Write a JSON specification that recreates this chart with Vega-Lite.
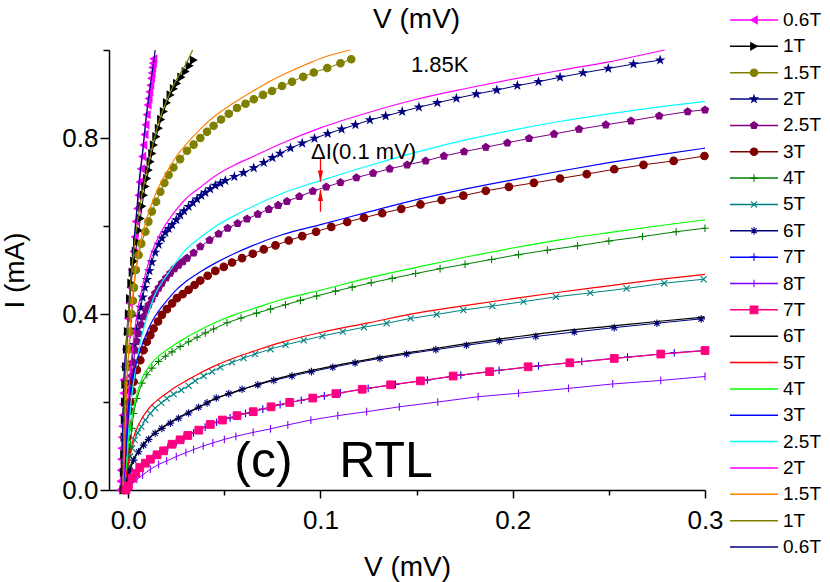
{
"$schema":"https://vega.github.io/schema/vega-lite/v6.json",
"width":596,"height":440,
"autosize":{"type":"none"},
"padding":{"left":109,"top":50,"right":125,"bottom":92},
"background":"white",
"config":{
 "view":{"stroke":null},
 "legend":{"disable":true},
 "range":{"category":["#ff00ff","#000000","#808000","#000080","#800080","#800000","#008000","#008080","#000080","#0000ff","#8000ff","#ff0080","#000000","#ff0000","#00ff00","#0000ff","#00ffff","#ff00ff","#ff8000","#808000","#000080"]},
 "axis":{"grid":false,"domainColor":"#000","tickColor":"#000","labelColor":"#000","titleColor":"#000","domainWidth":1.5,"tickWidth":1.5,"labelFont":"Liberation Sans Narrow, Liberation Sans, sans-serif","titleFont":"Liberation Sans Narrow, Liberation Sans, sans-serif","labelFontSize":26,"titleFontSize":28,"titleFontWeight":"normal","labelOverlap":false,"labelFlush":false}
},
"datasets":{
"curves":[
{"s":"d0.6T","v":-0.0042,"i":0},{"s":"d0.6T","v":-0.004,"i":0.02},{"s":"d0.6T","v":-0.0038,"i":0.045},{"s":"d0.6T","v":-0.0036,"i":0.07},{"s":"d0.6T","v":-0.0034,"i":0.095},{"s":"d0.6T","v":-0.0032,"i":0.12},{"s":"d0.6T","v":-0.003,"i":0.145},{"s":"d0.6T","v":-0.0028,"i":0.17},{"s":"d0.6T","v":-0.0027,"i":0.195},{"s":"d0.6T","v":-0.0025,"i":0.22},{"s":"d0.6T","v":-0.0024,"i":0.25},{"s":"d0.6T","v":-0.0019,"i":0.28},{"s":"d0.6T","v":-0.0012,"i":0.32},{"s":"d0.6T","v":-0.0006,"i":0.355},{"s":"d0.6T","v":0,"i":0.39},{"s":"d0.6T","v":0.0006,"i":0.425},{"s":"d0.6T","v":0.0012,"i":0.46},{"s":"d0.6T","v":0.002,"i":0.5},{"s":"d0.6T","v":0.0028,"i":0.542},{"s":"d0.6T","v":0.0034,"i":0.575},{"s":"d0.6T","v":0.004,"i":0.61},{"s":"d0.6T","v":0.0047,"i":0.64},{"s":"d0.6T","v":0.0054,"i":0.67},{"s":"d0.6T","v":0.006,"i":0.7},{"s":"d0.6T","v":0.0067,"i":0.73},{"s":"d0.6T","v":0.0074,"i":0.758},{"s":"d0.6T","v":0.008,"i":0.784},{"s":"d0.6T","v":0.0086,"i":0.808},{"s":"d0.6T","v":0.0091,"i":0.83},{"s":"d0.6T","v":0.0097,"i":0.853},{"s":"d0.6T","v":0.0102,"i":0.875},{"s":"d0.6T","v":0.0107,"i":0.89},{"s":"d0.6T","v":0.0111,"i":0.905},{"s":"d0.6T","v":0.0116,"i":0.92},{"s":"d0.6T","v":0.012,"i":0.936},{"s":"d0.6T","v":0.0123,"i":0.948},{"s":"d0.6T","v":0.0126,"i":0.96},{"s":"d0.6T","v":0.0129,"i":0.97},{"s":"d0.6T","v":0.0132,"i":0.98},
{"s":"f0.6T","v":-0.0036,"i":0},{"s":"f0.6T","v":-0.003,"i":0.12},{"s":"f0.6T","v":-0.0022,"i":0.25},{"s":"f0.6T","v":-0.001,"i":0.34},{"s":"f0.6T","v":0,"i":0.4},{"s":"f0.6T","v":0.0015,"i":0.49},{"s":"f0.6T","v":0.003,"i":0.565},{"s":"f0.6T","v":0.0045,"i":0.64},{"s":"f0.6T","v":0.006,"i":0.715},{"s":"f0.6T","v":0.0075,"i":0.77},{"s":"f0.6T","v":0.009,"i":0.835},{"s":"f0.6T","v":0.0105,"i":0.888},{"s":"f0.6T","v":0.012,"i":0.935},{"s":"f0.6T","v":0.013,"i":0.965},{"s":"f0.6T","v":0.014,"i":1},
{"s":"d1T","v":-0.0026,"i":0},{"s":"d1T","v":-0.0024,"i":0.04},{"s":"d1T","v":-0.0022,"i":0.08},{"s":"d1T","v":-0.002,"i":0.12},{"s":"d1T","v":-0.0019,"i":0.16},{"s":"d1T","v":-0.0018,"i":0.2},{"s":"d1T","v":-0.0016,"i":0.24},{"s":"d1T","v":-0.0012,"i":0.28},{"s":"d1T","v":-0.0008,"i":0.32},{"s":"d1T","v":-0.0003,"i":0.36},{"s":"d1T","v":0.0002,"i":0.4},{"s":"d1T","v":0.0008,"i":0.435},{"s":"d1T","v":0.0015,"i":0.47},{"s":"d1T","v":0.0022,"i":0.495},{"s":"d1T","v":0.003,"i":0.52},{"s":"d1T","v":0.0038,"i":0.542},{"s":"d1T","v":0.0045,"i":0.564},{"s":"d1T","v":0.0055,"i":0.59},{"s":"d1T","v":0.0063,"i":0.617},{"s":"d1T","v":0.0072,"i":0.645},{"s":"d1T","v":0.008,"i":0.67},{"s":"d1T","v":0.0088,"i":0.69},{"s":"d1T","v":0.0097,"i":0.708},{"s":"d1T","v":0.0106,"i":0.727},{"s":"d1T","v":0.0115,"i":0.746},{"s":"d1T","v":0.0124,"i":0.765},{"s":"d1T","v":0.0132,"i":0.784},{"s":"d1T","v":0.0145,"i":0.803},{"s":"d1T","v":0.0158,"i":0.822},{"s":"d1T","v":0.017,"i":0.842},{"s":"d1T","v":0.0184,"i":0.86},{"s":"d1T","v":0.02,"i":0.88},{"s":"d1T","v":0.0219,"i":0.898},{"s":"d1T","v":0.0236,"i":0.912},{"s":"d1T","v":0.0253,"i":0.924},{"s":"d1T","v":0.0275,"i":0.938},{"s":"d1T","v":0.0297,"i":0.951},{"s":"d1T","v":0.0318,"i":0.964},{"s":"d1T","v":0.034,"i":0.977},
{"s":"f1T","v":-0.0028,"i":0},{"s":"f1T","v":-0.0022,"i":0.15},{"s":"f1T","v":-0.0012,"i":0.3},{"s":"f1T","v":0.0005,"i":0.43},{"s":"f1T","v":0.003,"i":0.55},{"s":"f1T","v":0.0055,"i":0.63},{"s":"f1T","v":0.008,"i":0.69},{"s":"f1T","v":0.012,"i":0.77},{"s":"f1T","v":0.016,"i":0.838},{"s":"f1T","v":0.02,"i":0.885},{"s":"f1T","v":0.025,"i":0.932},{"s":"f1T","v":0.03,"i":0.968},{"s":"f1T","v":0.0335,"i":1},
{"s":"d1.5T","v":-0.0022,"i":0},{"s":"d1.5T","v":-0.0018,"i":0.06},{"s":"d1.5T","v":-0.0014,"i":0.12},{"s":"d1.5T","v":-0.001,"i":0.18},{"s":"d1.5T","v":-0.0007,"i":0.242},{"s":"d1.5T","v":-0.0002,"i":0.28},{"s":"d1.5T","v":0.0005,"i":0.32},{"s":"d1.5T","v":0.0012,"i":0.36},{"s":"d1.5T","v":0.0018,"i":0.4},{"s":"d1.5T","v":0.0025,"i":0.43},{"s":"d1.5T","v":0.003,"i":0.46},{"s":"d1.5T","v":0.004,"i":0.5},{"s":"d1.5T","v":0.0054,"i":0.534},{"s":"d1.5T","v":0.0068,"i":0.56},{"s":"d1.5T","v":0.0089,"i":0.587},{"s":"d1.5T","v":0.0105,"i":0.61},{"s":"d1.5T","v":0.0123,"i":0.633},{"s":"d1.5T","v":0.0145,"i":0.655},{"s":"d1.5T","v":0.0167,"i":0.678},{"s":"d1.5T","v":0.0188,"i":0.698},{"s":"d1.5T","v":0.021,"i":0.716},{"s":"d1.5T","v":0.0235,"i":0.733},{"s":"d1.5T","v":0.027,"i":0.752},{"s":"d1.5T","v":0.0306,"i":0.771},{"s":"d1.5T","v":0.034,"i":0.785},{"s":"d1.5T","v":0.0375,"i":0.8},{"s":"d1.5T","v":0.041,"i":0.814},{"s":"d1.5T","v":0.0444,"i":0.828},{"s":"d1.5T","v":0.0483,"i":0.842},{"s":"d1.5T","v":0.0523,"i":0.855},{"s":"d1.5T","v":0.0566,"i":0.868},{"s":"d1.5T","v":0.061,"i":0.878},{"s":"d1.5T","v":0.0653,"i":0.888},{"s":"d1.5T","v":0.0701,"i":0.898},{"s":"d1.5T","v":0.0748,"i":0.907},{"s":"d1.5T","v":0.08,"i":0.918},{"s":"d1.5T","v":0.0852,"i":0.928},{"s":"d1.5T","v":0.091,"i":0.939},{"s":"d1.5T","v":0.0965,"i":0.949},{"s":"d1.5T","v":0.1035,"i":0.959},{"s":"d1.5T","v":0.1104,"i":0.97},{"s":"d1.5T","v":0.116,"i":0.979},
{"s":"f1.5T","v":-0.0024,"i":0},{"s":"f1.5T","v":-0.0012,"i":0.2},{"s":"f1.5T","v":0,"i":0.3},{"s":"f1.5T","v":0.0015,"i":0.4},{"s":"f1.5T","v":0.003,"i":0.47},{"s":"f1.5T","v":0.005,"i":0.53},{"s":"f1.5T","v":0.007,"i":0.575},{"s":"f1.5T","v":0.0095,"i":0.615},{"s":"f1.5T","v":0.012,"i":0.648},{"s":"f1.5T","v":0.016,"i":0.69},{"s":"f1.5T","v":0.02,"i":0.722},{"s":"f1.5T","v":0.025,"i":0.758},{"s":"f1.5T","v":0.03,"i":0.785},{"s":"f1.5T","v":0.037,"i":0.818},{"s":"f1.5T","v":0.045,"i":0.85},{"s":"f1.5T","v":0.055,"i":0.88},{"s":"f1.5T","v":0.065,"i":0.907},{"s":"f1.5T","v":0.075,"i":0.932},{"s":"f1.5T","v":0.085,"i":0.953},{"s":"f1.5T","v":0.095,"i":0.972},{"s":"f1.5T","v":0.105,"i":0.988},{"s":"f1.5T","v":0.1155,"i":1},
{"s":"d2T","v":-0.002,"i":0},{"s":"d2T","v":-0.0015,"i":0.06},{"s":"d2T","v":-0.001,"i":0.12},{"s":"d2T","v":-0.0005,"i":0.17},{"s":"d2T","v":0,"i":0.2},{"s":"d2T","v":0.001,"i":0.246},{"s":"d2T","v":0.002,"i":0.29},{"s":"d2T","v":0.003,"i":0.33},{"s":"d2T","v":0.0042,"i":0.365},{"s":"d2T","v":0.0054,"i":0.394},{"s":"d2T","v":0.0065,"i":0.415},{"s":"d2T","v":0.0075,"i":0.438},{"s":"d2T","v":0.0086,"i":0.46},{"s":"d2T","v":0.0097,"i":0.478},{"s":"d2T","v":0.011,"i":0.498},{"s":"d2T","v":0.0123,"i":0.518},{"s":"d2T","v":0.014,"i":0.54},{"s":"d2T","v":0.0158,"i":0.558},{"s":"d2T","v":0.0175,"i":0.572},{"s":"d2T","v":0.0193,"i":0.585},{"s":"d2T","v":0.021,"i":0.594},{"s":"d2T","v":0.0228,"i":0.603},{"s":"d2T","v":0.025,"i":0.614},{"s":"d2T","v":0.027,"i":0.625},{"s":"d2T","v":0.029,"i":0.634},{"s":"d2T","v":0.0314,"i":0.644},{"s":"d2T","v":0.0336,"i":0.653},{"s":"d2T","v":0.0358,"i":0.661},{"s":"d2T","v":0.038,"i":0.669},{"s":"d2T","v":0.0401,"i":0.676},{"s":"d2T","v":0.0426,"i":0.684},{"s":"d2T","v":0.0453,"i":0.692},{"s":"d2T","v":0.0479,"i":0.697},{"s":"d2T","v":0.0505,"i":0.703},{"s":"d2T","v":0.0552,"i":0.712},{"s":"d2T","v":0.06,"i":0.721},{"s":"d2T","v":0.0653,"i":0.732},{"s":"d2T","v":0.0705,"i":0.744},{"s":"d2T","v":0.075,"i":0.755},{"s":"d2T","v":0.079,"i":0.765},{"s":"d2T","v":0.0844,"i":0.777},{"s":"d2T","v":0.0905,"i":0.788},{"s":"d2T","v":0.0969,"i":0.799},{"s":"d2T","v":0.1038,"i":0.81},{"s":"d2T","v":0.111,"i":0.82},{"s":"d2T","v":0.1182,"i":0.83},{"s":"d2T","v":0.1257,"i":0.841},{"s":"d2T","v":0.1339,"i":0.85},{"s":"d2T","v":0.1425,"i":0.86},{"s":"d2T","v":0.1512,"i":0.87},{"s":"d2T","v":0.1608,"i":0.88},{"s":"d2T","v":0.1707,"i":0.89},{"s":"d2T","v":0.1811,"i":0.9},{"s":"d2T","v":0.1917,"i":0.909},{"s":"d2T","v":0.2024,"i":0.919},{"s":"d2T","v":0.2134,"i":0.928},{"s":"d2T","v":0.2246,"i":0.938},{"s":"d2T","v":0.2366,"i":0.948},{"s":"d2T","v":0.2497,"i":0.958},{"s":"d2T","v":0.2628,"i":0.968},{"s":"d2T","v":0.2767,"i":0.977},
{"s":"f2T","v":-0.0022,"i":0},{"s":"f2T","v":-0.0012,"i":0.12},{"s":"f2T","v":0,"i":0.21},{"s":"f2T","v":0.0015,"i":0.29},{"s":"f2T","v":0.003,"i":0.35},{"s":"f2T","v":0.005,"i":0.41},{"s":"f2T","v":0.007,"i":0.455},{"s":"f2T","v":0.0095,"i":0.5},{"s":"f2T","v":0.012,"i":0.537},{"s":"f2T","v":0.016,"i":0.577},{"s":"f2T","v":0.02,"i":0.607},{"s":"f2T","v":0.025,"i":0.637},{"s":"f2T","v":0.03,"i":0.662},{"s":"f2T","v":0.0375,"i":0.688},{"s":"f2T","v":0.045,"i":0.713},{"s":"f2T","v":0.055,"i":0.738},{"s":"f2T","v":0.065,"i":0.758},{"s":"f2T","v":0.08,"i":0.788},{"s":"f2T","v":0.1,"i":0.823},{"s":"f2T","v":0.125,"i":0.858},{"s":"f2T","v":0.15,"i":0.888},{"s":"f2T","v":0.175,"i":0.912},{"s":"f2T","v":0.2,"i":0.934},{"s":"f2T","v":0.225,"i":0.954},{"s":"f2T","v":0.25,"i":0.973},{"s":"f2T","v":0.279,"i":1},
{"s":"d2.5T","v":-0.002,"i":0},{"s":"d2.5T","v":-0.0015,"i":0.05},{"s":"d2.5T","v":-0.001,"i":0.1},{"s":"d2.5T","v":-0.0005,"i":0.14},{"s":"d2.5T","v":0,"i":0.18},{"s":"d2.5T","v":0.001,"i":0.225},{"s":"d2.5T","v":0.0019,"i":0.258},{"s":"d2.5T","v":0.0028,"i":0.29},{"s":"d2.5T","v":0.0036,"i":0.318},{"s":"d2.5T","v":0.0045,"i":0.338},{"s":"d2.5T","v":0.0054,"i":0.356},{"s":"d2.5T","v":0.0067,"i":0.376},{"s":"d2.5T","v":0.008,"i":0.394},{"s":"d2.5T","v":0.0093,"i":0.408},{"s":"d2.5T","v":0.0106,"i":0.42},{"s":"d2.5T","v":0.0123,"i":0.434},{"s":"d2.5T","v":0.014,"i":0.447},{"s":"d2.5T","v":0.0158,"i":0.459},{"s":"d2.5T","v":0.0175,"i":0.47},{"s":"d2.5T","v":0.0197,"i":0.482},{"s":"d2.5T","v":0.0219,"i":0.493},{"s":"d2.5T","v":0.024,"i":0.503},{"s":"d2.5T","v":0.0262,"i":0.511},{"s":"d2.5T","v":0.0284,"i":0.519},{"s":"d2.5T","v":0.0306,"i":0.527},{"s":"d2.5T","v":0.034,"i":0.539},{"s":"d2.5T","v":0.0375,"i":0.553},{"s":"d2.5T","v":0.0423,"i":0.568},{"s":"d2.5T","v":0.047,"i":0.582},{"s":"d2.5T","v":0.0517,"i":0.595},{"s":"d2.5T","v":0.0569,"i":0.606},{"s":"d2.5T","v":0.0618,"i":0.616},{"s":"d2.5T","v":0.0674,"i":0.627},{"s":"d2.5T","v":0.0731,"i":0.638},{"s":"d2.5T","v":0.078,"i":0.647},{"s":"d2.5T","v":0.0826,"i":0.656},{"s":"d2.5T","v":0.089,"i":0.667},{"s":"d2.5T","v":0.096,"i":0.679},{"s":"d2.5T","v":0.103,"i":0.689},{"s":"d2.5T","v":0.1104,"i":0.699},{"s":"d2.5T","v":0.1187,"i":0.71},{"s":"d2.5T","v":0.1274,"i":0.72},{"s":"d2.5T","v":0.136,"i":0.73},{"s":"d2.5T","v":0.1451,"i":0.739},{"s":"d2.5T","v":0.1547,"i":0.748},{"s":"d2.5T","v":0.1642,"i":0.759},{"s":"d2.5T","v":0.1747,"i":0.769},{"s":"d2.5T","v":0.186,"i":0.779},{"s":"d2.5T","v":0.1972,"i":0.789},{"s":"d2.5T","v":0.2085,"i":0.799},{"s":"d2.5T","v":0.2215,"i":0.809},{"s":"d2.5T","v":0.2345,"i":0.82},{"s":"d2.5T","v":0.2484,"i":0.83},{"s":"d2.5T","v":0.2615,"i":0.839},{"s":"d2.5T","v":0.2762,"i":0.85},{"s":"d2.5T","v":0.291,"i":0.86},{"s":"d2.5T","v":0.3,"i":0.864},
{"s":"f2.5T","v":-0.0015,"i":0},{"s":"f2.5T","v":0,"i":0.12},{"s":"f2.5T","v":0.0015,"i":0.2},{"s":"f2.5T","v":0.0036,"i":0.27},{"s":"f2.5T","v":0.006,"i":0.33},{"s":"f2.5T","v":0.0085,"i":0.375},{"s":"f2.5T","v":0.0106,"i":0.405},{"s":"f2.5T","v":0.014,"i":0.445},{"s":"f2.5T","v":0.018,"i":0.475},{"s":"f2.5T","v":0.022,"i":0.5},{"s":"f2.5T","v":0.0297,"i":0.545},{"s":"f2.5T","v":0.037,"i":0.572},{"s":"f2.5T","v":0.045,"i":0.598},{"s":"f2.5T","v":0.055,"i":0.623},{"s":"f2.5T","v":0.065,"i":0.645},{"s":"f2.5T","v":0.08,"i":0.674},{"s":"f2.5T","v":0.1,"i":0.703},{"s":"f2.5T","v":0.125,"i":0.737},{"s":"f2.5T","v":0.15,"i":0.768},{"s":"f2.5T","v":0.175,"i":0.795},{"s":"f2.5T","v":0.2,"i":0.818},{"s":"f2.5T","v":0.225,"i":0.838},{"s":"f2.5T","v":0.25,"i":0.855},{"s":"f2.5T","v":0.275,"i":0.87},{"s":"f2.5T","v":0.3,"i":0.883},
{"s":"d3T","v":-0.002,"i":0},{"s":"d3T","v":-0.0015,"i":0.05},{"s":"d3T","v":-0.001,"i":0.09},{"s":"d3T","v":-0.0005,"i":0.12},{"s":"d3T","v":0,"i":0.15},{"s":"d3T","v":0.0006,"i":0.18},{"s":"d3T","v":0.0012,"i":0.2},{"s":"d3T","v":0.002,"i":0.225},{"s":"d3T","v":0.0028,"i":0.246},{"s":"d3T","v":0.0045,"i":0.273},{"s":"d3T","v":0.0063,"i":0.295},{"s":"d3T","v":0.008,"i":0.318},{"s":"d3T","v":0.0097,"i":0.337},{"s":"d3T","v":0.0115,"i":0.352},{"s":"d3T","v":0.0132,"i":0.367},{"s":"d3T","v":0.0155,"i":0.383},{"s":"d3T","v":0.0175,"i":0.398},{"s":"d3T","v":0.0201,"i":0.411},{"s":"d3T","v":0.0228,"i":0.424},{"s":"d3T","v":0.0253,"i":0.436},{"s":"d3T","v":0.0283,"i":0.445},{"s":"d3T","v":0.0314,"i":0.455},{"s":"d3T","v":0.0345,"i":0.466},{"s":"d3T","v":0.0375,"i":0.476},{"s":"d3T","v":0.0413,"i":0.487},{"s":"d3T","v":0.0453,"i":0.498},{"s":"d3T","v":0.0497,"i":0.507},{"s":"d3T","v":0.054,"i":0.517},{"s":"d3T","v":0.0592,"i":0.527},{"s":"d3T","v":0.0648,"i":0.537},{"s":"d3T","v":0.0705,"i":0.547},{"s":"d3T","v":0.0766,"i":0.556},{"s":"d3T","v":0.0835,"i":0.567},{"s":"d3T","v":0.0905,"i":0.577},{"s":"d3T","v":0.0977,"i":0.587},{"s":"d3T","v":0.1056,"i":0.598},{"s":"d3T","v":0.1139,"i":0.609},{"s":"d3T","v":0.1226,"i":0.619},{"s":"d3T","v":0.1321,"i":0.629},{"s":"d3T","v":0.142,"i":0.639},{"s":"d3T","v":0.152,"i":0.649},{"s":"d3T","v":0.163,"i":0.659},{"s":"d3T","v":0.1743,"i":0.669},{"s":"d3T","v":0.186,"i":0.68},{"s":"d3T","v":0.198,"i":0.689},{"s":"d3T","v":0.211,"i":0.698},{"s":"d3T","v":0.2246,"i":0.708},{"s":"d3T","v":0.2385,"i":0.718},{"s":"d3T","v":0.2528,"i":0.729},{"s":"d3T","v":0.268,"i":0.739},{"s":"d3T","v":0.2837,"i":0.748},{"s":"d3T","v":0.2997,"i":0.759},
{"s":"f3T","v":-0.002,"i":0},{"s":"f3T","v":-0.001,"i":0.1},{"s":"f3T","v":0,"i":0.18},{"s":"f3T","v":0.0015,"i":0.235},{"s":"f3T","v":0.003,"i":0.268},{"s":"f3T","v":0.005,"i":0.3},{"s":"f3T","v":0.007,"i":0.327},{"s":"f3T","v":0.0095,"i":0.356},{"s":"f3T","v":0.012,"i":0.38},{"s":"f3T","v":0.016,"i":0.408},{"s":"f3T","v":0.02,"i":0.43},{"s":"f3T","v":0.025,"i":0.455},{"s":"f3T","v":0.03,"i":0.474},{"s":"f3T","v":0.0375,"i":0.496},{"s":"f3T","v":0.045,"i":0.515},{"s":"f3T","v":0.055,"i":0.537},{"s":"f3T","v":0.065,"i":0.556},{"s":"f3T","v":0.08,"i":0.58},{"s":"f3T","v":0.1,"i":0.603},{"s":"f3T","v":0.125,"i":0.632},{"s":"f3T","v":0.15,"i":0.66},{"s":"f3T","v":0.175,"i":0.684},{"s":"f3T","v":0.2,"i":0.705},{"s":"f3T","v":0.225,"i":0.725},{"s":"f3T","v":0.25,"i":0.744},{"s":"f3T","v":0.275,"i":0.761},{"s":"f3T","v":0.3,"i":0.777},
{"s":"d4T","v":-0.002,"i":0},{"s":"d4T","v":-0.0012,"i":0.03},{"s":"d4T","v":-0.0005,"i":0.055},{"s":"d4T","v":0,"i":0.075},{"s":"d4T","v":0.001,"i":0.098},{"s":"d4T","v":0.0019,"i":0.14},{"s":"d4T","v":0.0028,"i":0.174},{"s":"d4T","v":0.0045,"i":0.208},{"s":"d4T","v":0.0071,"i":0.243},{"s":"d4T","v":0.0097,"i":0.262},{"s":"d4T","v":0.0123,"i":0.277},{"s":"d4T","v":0.0158,"i":0.292},{"s":"d4T","v":0.0193,"i":0.304},{"s":"d4T","v":0.0228,"i":0.314},{"s":"d4T","v":0.027,"i":0.326},{"s":"d4T","v":0.0314,"i":0.337},{"s":"d4T","v":0.0358,"i":0.347},{"s":"d4T","v":0.0401,"i":0.357},{"s":"d4T","v":0.0444,"i":0.366},{"s":"d4T","v":0.0514,"i":0.38},{"s":"d4T","v":0.0587,"i":0.391},{"s":"d4T","v":0.0667,"i":0.402},{"s":"d4T","v":0.074,"i":0.411},{"s":"d4T","v":0.0818,"i":0.421},{"s":"d4T","v":0.0896,"i":0.431},{"s":"d4T","v":0.098,"i":0.441},{"s":"d4T","v":0.1078,"i":0.452},{"s":"d4T","v":0.1165,"i":0.461},{"s":"d4T","v":0.1264,"i":0.471},{"s":"d4T","v":0.1373,"i":0.481},{"s":"d4T","v":0.1495,"i":0.492},{"s":"d4T","v":0.1622,"i":0.503},{"s":"d4T","v":0.1752,"i":0.513},{"s":"d4T","v":0.189,"i":0.524},{"s":"d4T","v":0.203,"i":0.535},{"s":"d4T","v":0.218,"i":0.545},{"s":"d4T","v":0.2337,"i":0.555},{"s":"d4T","v":0.25,"i":0.566},{"s":"d4T","v":0.2675,"i":0.576},{"s":"d4T","v":0.285,"i":0.587},{"s":"d4T","v":0.3,"i":0.595},
{"s":"f4T","v":-0.002,"i":0},{"s":"f4T","v":-0.001,"i":0.05},{"s":"f4T","v":0,"i":0.1},{"s":"f4T","v":0.0015,"i":0.155},{"s":"f4T","v":0.003,"i":0.19},{"s":"f4T","v":0.005,"i":0.225},{"s":"f4T","v":0.007,"i":0.252},{"s":"f4T","v":0.0095,"i":0.272},{"s":"f4T","v":0.012,"i":0.288},{"s":"f4T","v":0.016,"i":0.305},{"s":"f4T","v":0.02,"i":0.318},{"s":"f4T","v":0.025,"i":0.333},{"s":"f4T","v":0.03,"i":0.346},{"s":"f4T","v":0.0375,"i":0.364},{"s":"f4T","v":0.045,"i":0.38},{"s":"f4T","v":0.055,"i":0.398},{"s":"f4T","v":0.065,"i":0.412},{"s":"f4T","v":0.08,"i":0.433},{"s":"f4T","v":0.1,"i":0.454},{"s":"f4T","v":0.125,"i":0.482},{"s":"f4T","v":0.15,"i":0.506},{"s":"f4T","v":0.175,"i":0.529},{"s":"f4T","v":0.2,"i":0.55},{"s":"f4T","v":0.225,"i":0.569},{"s":"f4T","v":0.25,"i":0.585},{"s":"f4T","v":0.275,"i":0.6},{"s":"f4T","v":0.3,"i":0.614},
{"s":"d5T","v":-0.002,"i":0},{"s":"d5T","v":-0.001,"i":0.03},{"s":"d5T","v":0,"i":0.053},{"s":"d5T","v":0.001,"i":0.076},{"s":"d5T","v":0.002,"i":0.095},{"s":"d5T","v":0.0033,"i":0.114},{"s":"d5T","v":0.0049,"i":0.13},{"s":"d5T","v":0.0068,"i":0.144},{"s":"d5T","v":0.0089,"i":0.159},{"s":"d5T","v":0.0115,"i":0.174},{"s":"d5T","v":0.014,"i":0.186},{"s":"d5T","v":0.0172,"i":0.198},{"s":"d5T","v":0.0201,"i":0.208},{"s":"d5T","v":0.0236,"i":0.218},{"s":"d5T","v":0.0276,"i":0.227},{"s":"d5T","v":0.0314,"i":0.237},{"s":"d5T","v":0.0348,"i":0.248},{"s":"d5T","v":0.0392,"i":0.259},{"s":"d5T","v":0.0436,"i":0.269},{"s":"d5T","v":0.0479,"i":0.279},{"s":"d5T","v":0.054,"i":0.29},{"s":"d5T","v":0.06,"i":0.3},{"s":"d5T","v":0.066,"i":0.309},{"s":"d5T","v":0.074,"i":0.32},{"s":"d5T","v":0.0818,"i":0.33},{"s":"d5T","v":0.0913,"i":0.34},{"s":"d5T","v":0.101,"i":0.35},{"s":"d5T","v":0.1116,"i":0.36},{"s":"d5T","v":0.1226,"i":0.37},{"s":"d5T","v":0.1344,"i":0.379},{"s":"d5T","v":0.1469,"i":0.39},{"s":"d5T","v":0.1604,"i":0.399},{"s":"d5T","v":0.1743,"i":0.409},{"s":"d5T","v":0.1894,"i":0.418},{"s":"d5T","v":0.2056,"i":0.428},{"s":"d5T","v":0.2224,"i":0.439},{"s":"d5T","v":0.2403,"i":0.448},{"s":"d5T","v":0.2592,"i":0.458},{"s":"d5T","v":0.2788,"i":0.47},{"s":"d5T","v":0.2993,"i":0.479},
{"s":"f5T","v":-0.002,"i":0},{"s":"f5T","v":-0.001,"i":0.035},{"s":"f5T","v":0,"i":0.06},{"s":"f5T","v":0.0015,"i":0.095},{"s":"f5T","v":0.003,"i":0.122},{"s":"f5T","v":0.005,"i":0.145},{"s":"f5T","v":0.007,"i":0.162},{"s":"f5T","v":0.0095,"i":0.178},{"s":"f5T","v":0.012,"i":0.192},{"s":"f5T","v":0.016,"i":0.207},{"s":"f5T","v":0.02,"i":0.22},{"s":"f5T","v":0.025,"i":0.235},{"s":"f5T","v":0.03,"i":0.248},{"s":"f5T","v":0.0375,"i":0.266},{"s":"f5T","v":0.045,"i":0.282},{"s":"f5T","v":0.055,"i":0.3},{"s":"f5T","v":0.065,"i":0.315},{"s":"f5T","v":0.08,"i":0.336},{"s":"f5T","v":0.1,"i":0.358},{"s":"f5T","v":0.125,"i":0.38},{"s":"f5T","v":0.15,"i":0.402},{"s":"f5T","v":0.175,"i":0.419},{"s":"f5T","v":0.2,"i":0.435},{"s":"f5T","v":0.225,"i":0.45},{"s":"f5T","v":0.25,"i":0.464},{"s":"f5T","v":0.275,"i":0.478},{"s":"f5T","v":0.3,"i":0.49},
{"s":"d6T","v":-0.002,"i":0},{"s":"d6T","v":-0.001,"i":0.02},{"s":"d6T","v":0,"i":0.035},{"s":"d6T","v":0.001,"i":0.045},{"s":"d6T","v":0.0028,"i":0.068},{"s":"d6T","v":0.0054,"i":0.087},{"s":"d6T","v":0.008,"i":0.102},{"s":"d6T","v":0.0106,"i":0.115},{"s":"d6T","v":0.014,"i":0.129},{"s":"d6T","v":0.0175,"i":0.14},{"s":"d6T","v":0.0219,"i":0.152},{"s":"d6T","v":0.0262,"i":0.163},{"s":"d6T","v":0.0314,"i":0.175},{"s":"d6T","v":0.0366,"i":0.188},{"s":"d6T","v":0.041,"i":0.198},{"s":"d6T","v":0.0458,"i":0.209},{"s":"d6T","v":0.0523,"i":0.219},{"s":"d6T","v":0.0592,"i":0.229},{"s":"d6T","v":0.0674,"i":0.239},{"s":"d6T","v":0.0757,"i":0.249},{"s":"d6T","v":0.0852,"i":0.259},{"s":"d6T","v":0.0953,"i":0.269},{"s":"d6T","v":0.1064,"i":0.279},{"s":"d6T","v":0.118,"i":0.289},{"s":"d6T","v":0.1309,"i":0.299},{"s":"d6T","v":0.1448,"i":0.309},{"s":"d6T","v":0.16,"i":0.319},{"s":"d6T","v":0.1759,"i":0.329},{"s":"d6T","v":0.193,"i":0.339},{"s":"d6T","v":0.212,"i":0.349},{"s":"d6T","v":0.232,"i":0.359},{"s":"d6T","v":0.2528,"i":0.369},{"s":"d6T","v":0.275,"i":0.379},{"s":"d6T","v":0.298,"i":0.389},
{"s":"f6T","v":-0.002,"i":0},{"s":"f6T","v":-0.001,"i":0.02},{"s":"f6T","v":0,"i":0.035},{"s":"f6T","v":0.0015,"i":0.055},{"s":"f6T","v":0.003,"i":0.072},{"s":"f6T","v":0.005,"i":0.087},{"s":"f6T","v":0.007,"i":0.099},{"s":"f6T","v":0.0095,"i":0.112},{"s":"f6T","v":0.012,"i":0.123},{"s":"f6T","v":0.016,"i":0.137},{"s":"f6T","v":0.02,"i":0.149},{"s":"f6T","v":0.025,"i":0.162},{"s":"f6T","v":0.03,"i":0.174},{"s":"f6T","v":0.0375,"i":0.19},{"s":"f6T","v":0.045,"i":0.207},{"s":"f6T","v":0.055,"i":0.222},{"s":"f6T","v":0.065,"i":0.237},{"s":"f6T","v":0.08,"i":0.256},{"s":"f6T","v":0.1,"i":0.276},{"s":"f6T","v":0.125,"i":0.297},{"s":"f6T","v":0.15,"i":0.315},{"s":"f6T","v":0.175,"i":0.332},{"s":"f6T","v":0.2,"i":0.347},{"s":"f6T","v":0.225,"i":0.361},{"s":"f6T","v":0.25,"i":0.372},{"s":"f6T","v":0.275,"i":0.383},{"s":"f6T","v":0.3,"i":0.393},
{"s":"d7T","v":-0.0012,"i":0},{"s":"d7T","v":0.001,"i":0.018},{"s":"d7T","v":0.003,"i":0.033},{"s":"d7T","v":0.005,"i":0.045},{"s":"d7T","v":0.0075,"i":0.056},{"s":"d7T","v":0.0102,"i":0.066},{"s":"d7T","v":0.013,"i":0.074},{"s":"d7T","v":0.0167,"i":0.085},{"s":"d7T","v":0.0206,"i":0.097},{"s":"d7T","v":0.025,"i":0.109},{"s":"d7T","v":0.029,"i":0.119},{"s":"d7T","v":0.034,"i":0.13},{"s":"d7T","v":0.04,"i":0.143},{"s":"d7T","v":0.046,"i":0.154},{"s":"d7T","v":0.053,"i":0.164},{"s":"d7T","v":0.061,"i":0.174},{"s":"d7T","v":0.07,"i":0.184},{"s":"d7T","v":0.079,"i":0.194},{"s":"d7T","v":0.09,"i":0.204},{"s":"d7T","v":0.102,"i":0.214},{"s":"d7T","v":0.1104,"i":0.221},{"s":"d7T","v":0.1248,"i":0.231},{"s":"d7T","v":0.139,"i":0.24},{"s":"d7T","v":0.1556,"i":0.25},{"s":"d7T","v":0.173,"i":0.261},{"s":"d7T","v":0.1929,"i":0.272},{"s":"d7T","v":0.2134,"i":0.282},{"s":"d7T","v":0.2359,"i":0.292},{"s":"d7T","v":0.2597,"i":0.302},{"s":"d7T","v":0.284,"i":0.312},{"s":"d7T","v":0.3,"i":0.317},
{"s":"f7T","v":-0.0012,"i":0},{"s":"f7T","v":0,"i":0.009},{"s":"f7T","v":0.002,"i":0.027},{"s":"f7T","v":0.004,"i":0.038},{"s":"f7T","v":0.006,"i":0.051},{"s":"f7T","v":0.0089,"i":0.061},{"s":"f7T","v":0.0115,"i":0.07},{"s":"f7T","v":0.015,"i":0.08},{"s":"f7T","v":0.0184,"i":0.089},{"s":"f7T","v":0.0228,"i":0.104},{"s":"f7T","v":0.027,"i":0.114},{"s":"f7T","v":0.031,"i":0.124},{"s":"f7T","v":0.0367,"i":0.136},{"s":"f7T","v":0.0427,"i":0.149},{"s":"f7T","v":0.049,"i":0.159},{"s":"f7T","v":0.0566,"i":0.169},{"s":"f7T","v":0.065,"i":0.178},{"s":"f7T","v":0.0743,"i":0.189},{"s":"f7T","v":0.084,"i":0.199},{"s":"f7T","v":0.096,"i":0.209},{"s":"f7T","v":0.108,"i":0.219},{"s":"f7T","v":0.1217,"i":0.229},{"s":"f7T","v":0.1365,"i":0.239},{"s":"f7T","v":0.152,"i":0.248},{"s":"f7T","v":0.169,"i":0.259},{"s":"f7T","v":0.188,"i":0.269},{"s":"f7T","v":0.208,"i":0.28},{"s":"f7T","v":0.2297,"i":0.289},{"s":"f7T","v":0.2528,"i":0.299},{"s":"f7T","v":0.277,"i":0.309},{"s":"f7T","v":0.3,"i":0.317},
{"s":"d8T","v":-0.001,"i":0},{"s":"d8T","v":0.0005,"i":0.008},{"s":"d8T","v":0.002,"i":0.013},{"s":"d8T","v":0.0045,"i":0.024},{"s":"d8T","v":0.0075,"i":0.034},{"s":"d8T","v":0.0115,"i":0.047},{"s":"d8T","v":0.0158,"i":0.058},{"s":"d8T","v":0.02,"i":0.066},{"s":"d8T","v":0.025,"i":0.076},{"s":"d8T","v":0.03,"i":0.085},{"s":"d8T","v":0.034,"i":0.092},{"s":"d8T","v":0.039,"i":0.1},{"s":"d8T","v":0.044,"i":0.107},{"s":"d8T","v":0.05,"i":0.115},{"s":"d8T","v":0.056,"i":0.122},{"s":"d8T","v":0.065,"i":0.131},{"s":"d8T","v":0.074,"i":0.139},{"s":"d8T","v":0.083,"i":0.148},{"s":"d8T","v":0.095,"i":0.159},{"s":"d8T","v":0.109,"i":0.169},{"s":"d8T","v":0.124,"i":0.178},{"s":"d8T","v":0.141,"i":0.189},{"s":"d8T","v":0.161,"i":0.2},{"s":"d8T","v":0.182,"i":0.212},{"s":"d8T","v":0.203,"i":0.22},{"s":"d8T","v":0.229,"i":0.231},{"s":"d8T","v":0.252,"i":0.241},{"s":"d8T","v":0.277,"i":0.249},{"s":"d8T","v":0.3,"i":0.258}
],
"legend":[
{"s":"d0.6T","label":"0.6T"},{"s":"d1T","label":"1T"},{"s":"d1.5T","label":"1.5T"},{"s":"d2T","label":"2T"},{"s":"d2.5T","label":"2.5T"},{"s":"d3T","label":"3T"},{"s":"d4T","label":"4T"},{"s":"d5T","label":"5T"},{"s":"d6T","label":"6T"},{"s":"d7T","label":"7T"},{"s":"d8T","label":"8T"},
{"s":"f7T","label":"7T"},{"s":"f6T","label":"6T"},{"s":"f5T","label":"5T"},{"s":"f4T","label":"4T"},{"s":"f3T","label":"3T"},{"s":"f2.5T","label":"2.5T"},{"s":"f2T","label":"2T"},{"s":"f1.5T","label":"1.5T"},{"s":"f1T","label":"1T"},{"s":"f0.6T","label":"0.6T"}
],
"small":[{"t":"1.85K","v":0.162,"i":0.95},{"t":"ΔI(0.1 mV)","v":0.1224,"i":0.752}],
"big":[{"t":"(c)","v":0.0703,"i":0.03},{"t":"RTL","v":0.1341,"i":0.03}],
"top":[{"t":"V (mV)","v":0.15,"i":1.05}],
"arrows":[{"d":"down","v":0.1,"i":0.7545,"i2":0.7007},{"d":"up","v":0.1,"i":0.6325,"i2":0.682}]
},
"layer":[
{
 "data":{"name":"curves"},
 "encoding":{
  "x":{"field":"v","type":"quantitative","scale":{"domain":[-0.01,0.3],"nice":false,"zero":false},
   "axis":{"orient":"bottom","values":[0,0.05,0.1,0.15,0.2,0.25,0.3],"labelExpr":"(datum.value==0||datum.value==0.1||datum.value==0.2||datum.value==0.3) ? format(datum.value,'.1f') : ''","tickSize":{"condition":{"test":"datum.value==0||datum.value==0.1||datum.value==0.2||datum.value==0.3","value":8},"value":5},"labelPadding":9,"title":"V (mV)","titlePadding":20}},
  "y":{"field":"i","type":"quantitative","scale":{"domain":[0,1],"nice":false,"zero":false},
   "axis":{"orient":"left","values":[0,0.2,0.4,0.6,0.8,1],"labelExpr":"(datum.value==0||datum.value==0.4||datum.value==0.8) ? format(datum.value,'.1f') : ''","tickSize":{"condition":{"test":"datum.value==0||datum.value==0.4||datum.value==0.8","value":9},"value":6},"labelPadding":2,"title":"I (mA)","titleX":-80,"titleY":220}}
 },
 "layer":[
  {"transform":[{"filter":"indexof(datum.s,'d')==0"}],"mark":{"type":"line","strokeWidth":1},
   "encoding":{"color":{"field":"s","type":"nominal","scale":{"domain":["d0.6T","d1T","d1.5T","d2T","d2.5T","d3T","d4T","d5T","d6T","d7T","d8T","f7T","f6T","f5T","f4T","f3T","f2.5T","f2T","f1.5T","f1T","f0.6T"]}}}},
  {"transform":[{"filter":"indexof(datum.s,'d')==0"}],"mark":{"type":"point","filled":true,"strokeWidth":1.1,"opacity":1},
   "encoding":{
    "shape":{"field":"s","type":"nominal","scale":{"domain":["d0.6T","d1T","d1.5T","d2T","d2.5T","d3T","d4T","d5T","d6T","d7T","d8T","f7T"],"range":["triangle-left","triangle-right","circle","M0,-1L0.225,-0.309L0.951,-0.309L0.363,0.118L0.588,0.809L0,0.382L-0.588,0.809L-0.363,0.118L-0.951,-0.309L-0.225,-0.309Z","M0,-1L0.951,-0.309L0.588,0.809L-0.588,0.809L-0.951,-0.309Z","circle","M-1,0L1,0M0,-1L0,1","M-0.8,-0.8L0.8,0.8M-0.8,0.8L0.8,-0.8","M-1,0L1,0M0,-1L0,1M-0.7,-0.7L0.7,0.7M-0.7,0.7L0.7,-0.7","M-1,0L1,0M0,-1L0,1","M0,-1L0,1","square"]}},
    "size":{"field":"s","type":"ordinal","scale":{"domain":["d0.6T","d1T","d1.5T","d2T","d2.5T","d3T","d4T","d5T","d6T","d7T","d8T","f7T"],"range":[55,60,60,110,100,60,64,64,64,64,90,55]}},
    "fill":{"field":"s","type":"nominal","scale":{"domain":["d0.6T","d1T","d1.5T","d2T","d2.5T","d3T","d4T","d5T","d6T","d7T","d8T","f7T","f6T","f5T","f4T","f3T","f2.5T","f2T","f1.5T","f1T","f0.6T"]}},
    "stroke":{"field":"s","type":"nominal","scale":{"domain":["d0.6T","d1T","d1.5T","d2T","d2.5T","d3T","d4T","d5T","d6T","d7T","d8T","f7T","f6T","f5T","f4T","f3T","f2.5T","f2T","f1.5T","f1T","f0.6T"]}}
   }},
  {"transform":[{"filter":"indexof(datum.s,'f')==0"}],"mark":{"type":"line","strokeWidth":1.2,"interpolate":"monotone"},
   "encoding":{"color":{"field":"s","type":"nominal","scale":{"domain":["d0.6T","d1T","d1.5T","d2T","d2.5T","d3T","d4T","d5T","d6T","d7T","d8T","f7T","f6T","f5T","f4T","f3T","f2.5T","f2T","f1.5T","f1T","f0.6T"]}}}},
  {"transform":[{"filter":"datum.s=='f7T'"}],"mark":{"type":"point","filled":true,"strokeWidth":1,"opacity":1},
   "encoding":{
    "shape":{"field":"s","type":"nominal","scale":{"domain":["d0.6T","d1T","d1.5T","d2T","d2.5T","d3T","d4T","d5T","d6T","d7T","d8T","f7T"]}},
    "size":{"field":"s","type":"ordinal","scale":{"domain":["d0.6T","d1T","d1.5T","d2T","d2.5T","d3T","d4T","d5T","d6T","d7T","d8T","f7T"]}},
    "fill":{"field":"s","type":"nominal","scale":{"domain":["d0.6T","d1T","d1.5T","d2T","d2.5T","d3T","d4T","d5T","d6T","d7T","d8T","f7T","f6T","f5T","f4T","f3T","f2.5T","f2T","f1.5T","f1T","f0.6T"]}},
    "stroke":{"field":"s","type":"nominal","scale":{"domain":["d0.6T","d1T","d1.5T","d2T","d2.5T","d3T","d4T","d5T","d6T","d7T","d8T","f7T","f6T","f5T","f4T","f3T","f2.5T","f2T","f1.5T","f1T","f0.6T"]}}
   }},
  {"data":{"name":"arrows"},"mark":{"type":"rule","color":"#ff0000","strokeWidth":1.3},"encoding":{"y2":{"field":"i2"}}},
  {"data":{"name":"arrows"},"transform":[{"filter":"datum.d=='down'"}],"mark":{"type":"point","shape":"M-0.45,-1L0.45,-1L0,1Z","filled":true,"color":"#ff0000","size":130,"yOffset":-5.5,"opacity":1},"encoding":{"y":{"field":"i2","type":"quantitative"}}},
  {"data":{"name":"arrows"},"transform":[{"filter":"datum.d=='up'"}],"mark":{"type":"point","shape":"M-0.45,1L0.45,1L0,-1Z","filled":true,"color":"#ff0000","size":130,"yOffset":5.5,"opacity":1},"encoding":{"y":{"field":"i2","type":"quantitative"}}},
  {"data":{"name":"small"},"mark":{"type":"text","font":"Liberation Sans, sans-serif","fontSize":22,"align":"center","baseline":"alphabetic","color":"#000"},"encoding":{"text":{"field":"t"}}},
  {"data":{"name":"big"},"mark":{"type":"text","font":"Liberation Sans, sans-serif","fontSize":50,"align":"center","baseline":"alphabetic","color":"#000"},"encoding":{"text":{"field":"t"}}},
  {"data":{"name":"top"},"mark":{"type":"text","font":"Liberation Sans Narrow, Liberation Sans, sans-serif","fontSize":28,"align":"center","baseline":"alphabetic","color":"#000"},"encoding":{"text":{"field":"t"}}}
 ]
},
{
 "data":{"name":"legend"},
 "layer":[
  {"mark":{"type":"rule","strokeWidth":1.5},
   "encoding":{
    "x":{"datum":0,"type":"quantitative","scale":{"domain":[0,1],"range":[621,669]},"axis":null},
    "x2":{"datum":1},
    "y":{"field":"s","type":"nominal","scale":{"type":"point","domain":["d0.6T","d1T","d1.5T","d2T","d2.5T","d3T","d4T","d5T","d6T","d7T","d8T","f7T","f6T","f5T","f4T","f3T","f2.5T","f2T","f1.5T","f1T","f0.6T"],"range":[-30,497],"padding":0},"axis":null},
    "color":{"field":"s","type":"nominal","scale":{"domain":["d0.6T","d1T","d1.5T","d2T","d2.5T","d3T","d4T","d5T","d6T","d7T","d8T","f7T","f6T","f5T","f4T","f3T","f2.5T","f2T","f1.5T","f1T","f0.6T"]}}
   }},
  {"transform":[{"filter":"indexof(datum.s,'d')==0 || datum.s=='f7T'"}],"mark":{"type":"point","filled":true,"strokeWidth":1.1,"opacity":1},
   "encoding":{
    "x":{"datum":0.5,"type":"quantitative","scale":{"domain":[0,1],"range":[621,669]},"axis":null},
    "y":{"field":"s","type":"nominal","scale":{"type":"point","domain":["d0.6T","d1T","d1.5T","d2T","d2.5T","d3T","d4T","d5T","d6T","d7T","d8T","f7T","f6T","f5T","f4T","f3T","f2.5T","f2T","f1.5T","f1T","f0.6T"],"range":[-30,497],"padding":0},"axis":null},
    "shape":{"field":"s","type":"nominal","scale":{"domain":["d0.6T","d1T","d1.5T","d2T","d2.5T","d3T","d4T","d5T","d6T","d7T","d8T","f7T"]}},
    "size":{"field":"s","type":"ordinal","scale":{"domain":["d0.6T","d1T","d1.5T","d2T","d2.5T","d3T","d4T","d5T","d6T","d7T","d8T","f7T"]}},
    "fill":{"field":"s","type":"nominal","scale":{"domain":["d0.6T","d1T","d1.5T","d2T","d2.5T","d3T","d4T","d5T","d6T","d7T","d8T","f7T","f6T","f5T","f4T","f3T","f2.5T","f2T","f1.5T","f1T","f0.6T"]}},
    "stroke":{"field":"s","type":"nominal","scale":{"domain":["d0.6T","d1T","d1.5T","d2T","d2.5T","d3T","d4T","d5T","d6T","d7T","d8T","f7T","f6T","f5T","f4T","f3T","f2.5T","f2T","f1.5T","f1T","f0.6T"]}}
   }},
  {"mark":{"type":"text","align":"left","baseline":"middle","dx":5,"fontSize":19,"font":"Liberation Sans, sans-serif","color":"#000"},
   "encoding":{
    "x":{"datum":1,"type":"quantitative","scale":{"domain":[0,1],"range":[621,669]},"axis":null},
    "y":{"field":"s","type":"nominal","scale":{"type":"point","domain":["d0.6T","d1T","d1.5T","d2T","d2.5T","d3T","d4T","d5T","d6T","d7T","d8T","f7T","f6T","f5T","f4T","f3T","f2.5T","f2T","f1.5T","f1T","f0.6T"],"range":[-30,497],"padding":0},"axis":null},
    "text":{"field":"label"}
   }}
 ]
}
],
"resolve":{"scale":{"x":"independent","y":"independent"}}
}
